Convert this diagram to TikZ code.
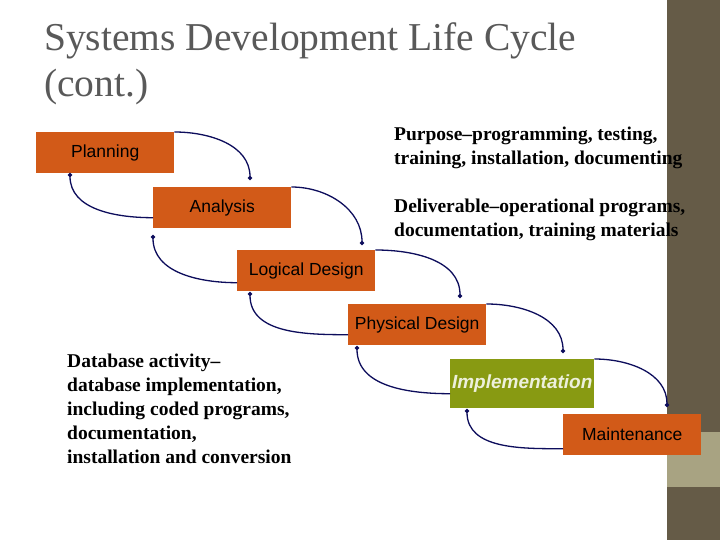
\documentclass[tikz,border=0pt]{standalone}
\usetikzlibrary{arrows.meta}
\usepackage{fontspec}
\setmainfont{Liberation Serif}
\newfontfamily\sansf{Liberation Sans}
\definecolor{boxor}{HTML}{D25A18}
\definecolor{boxgr}{HTML}{889A12}
\definecolor{band}{HTML}{655B47}
\definecolor{bandl}{HTML}{A8A382}
\definecolor{arr}{HTML}{0D0D5C}
\begin{document}
\begin{tikzpicture}[x=1pt,y=-1pt,
  stage/.style={fill=boxor,minimum width=138pt,minimum height=41pt,inner sep=0pt,font=\sansf\fontsize{17.5}{20}\selectfont},
  fw/.style={draw=arr,line width=1.3pt,-{Circle[length=4pt]}},
  nt/.style={font=\bfseries\fontsize{19.5}{24}\selectfont,align=left,anchor=north west,inner sep=0pt}]
\useasboundingbox (0,0) rectangle (720,540);
\fill[white] (0,0) rectangle (720,540);
\fill[band] (667,0) rectangle (720,540);
\fill[bandl] (667,432) rectangle (720,487);
\node[anchor=north west,inner sep=0pt,text=black!65,font=\fontsize{39.5}{46}\selectfont,align=left] (title) at (44,22) {Systems Development Life Cycle\\(cont.)};
\node[stage,anchor=north west] (pl) at (36,132) {Planning};
\node[stage,anchor=north west] (an) at (153,187) {Analysis};
\node[stage,anchor=north west] (ld) at (237,250) {Logical Design};
\node[stage,anchor=north west] (pd) at (348,304) {Physical Design};
\node[fill=boxgr,minimum width=144pt,minimum height=49pt,inner sep=0pt,anchor=north west,text=white!85!boxgr,font=\sansf\bfseries\itshape\fontsize{19}{22}\selectfont] (im) at (450,359) {Implementation};
\node[stage,anchor=north west] (mt) at (563,414) {Maintenance};
\coordinate (e1) at (250,180); \coordinate (e2) at (362,245);
\coordinate (e3) at (460,298); \coordinate (e4) at (563,353); \coordinate (e5) at (667,407);
\draw[fw] (pl.north east) to[out=0,in=90] (e1);
\draw[fw] (an.north east) to[out=0,in=90] (e2);
\draw[fw] (ld.north east) to[out=0,in=90] (e3);
\draw[fw] (pd.north east) to[out=0,in=90] (e4);
\draw[fw] (im.north east) to[out=0,in=90] (e5);
\coordinate (b1) at (70,173); \coordinate (b2) at (153,235);
\coordinate (b3) at (250,292); \coordinate (b4) at (357,346); \coordinate (b5) at (467,409);
\draw[fw] (an.west) ++(0,10) to[out=180,in=-90] (b1);
\draw[fw] (ld.west) ++(0,12) to[out=180,in=-90] (b2);
\draw[fw] (pd.west) ++(0,10) to[out=180,in=-90] (b3);
\draw[fw] (im.west) ++(0,10) to[out=180,in=-90] (b4);
\draw[fw] (mt.west) ++(0,14) to[out=180,in=-90] (b5);
\node[nt] (pu) at (394,127) {Purpose--programming, testing,\\training, installation, documenting};
\node[nt] (de) at (394,199) {Deliverable--operational programs,\\documentation, training materials};
\node[nt] (db) at (67,354) {Database activity--\\database implementation,\\including coded programs,\\documentation,\\installation and conversion};
\end{tikzpicture}
\end{document}
